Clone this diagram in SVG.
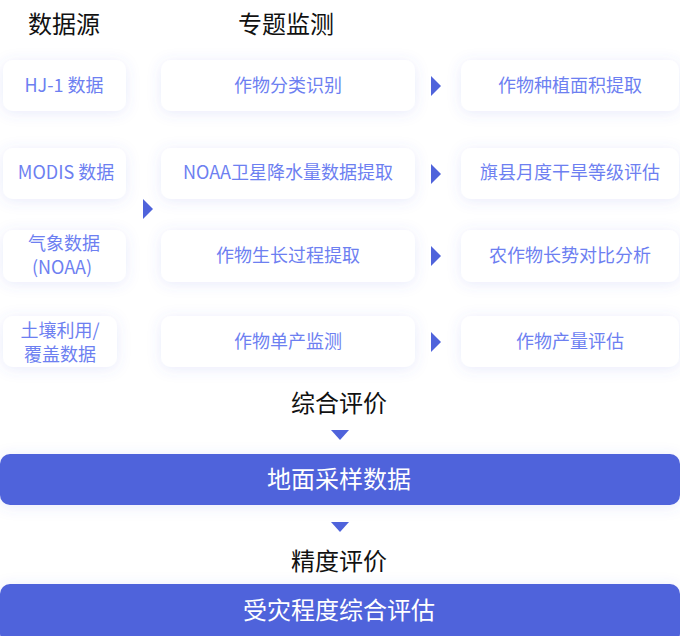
<svg xmlns="http://www.w3.org/2000/svg" width="680" height="636" viewBox="0 0 680 636">
<defs>
<filter id="sh" x="-30%" y="-60%" width="160%" height="220%">
<feDropShadow dx="0" dy="2" stdDeviation="7" flood-color="#5566dd" flood-opacity="0.13"/>
</filter>
<style>
text{font-family:"Noto Sans CJK SC","Noto Sans",sans-serif;text-anchor:middle;dominant-baseline:central}
.box{fill:#ffffff;filter:url(#sh)}
.bt{fill:#6d7ff1;font-size:18px}
.title{fill:#111111;font-size:24px}
.bar{fill:#4f63db;filter:url(#sh)}
.wt{fill:#ffffff;font-size:24px}
.arr{fill:#4f63db}
</style>
</defs>
<rect width="680" height="636" fill="#ffffff"/>

<g id="title-source"><text class="title" x="64" y="22">数据源</text></g>
<g id="title-monitor"><text class="title" x="286" y="22">专题监测</text></g>

<g id="src-hj1"><rect class="box" x="3" y="60" width="123" height="51" rx="10"/><text class="bt" x="64" y="84">HJ-1 数据</text></g>
<g id="src-modis"><rect class="box" x="3" y="148" width="123" height="51" rx="10"/><text class="bt" x="66" y="171">MODIS 数据</text></g>
<g id="src-noaa"><rect class="box" x="3" y="230" width="123" height="52" rx="10"/><text class="bt" x="64" y="242">气象数据<tspan x="62" dy="24">(NOAA)</tspan></text></g>
<g id="src-soil"><rect class="box" x="3" y="316" width="114" height="51" rx="10"/><text class="bt" x="60" y="329">土壤利用/<tspan x="60" dy="24">覆盖数据</tspan></text></g>

<g id="mon-class"><rect class="box" x="161" y="60" width="254" height="51" rx="10"/><text class="bt" x="288" y="84">作物分类识别</text></g>
<g id="mon-rain"><rect class="box" x="161" y="148" width="254" height="51" rx="10"/><text class="bt" x="288" y="171">NOAA卫星降水量数据提取</text></g>
<g id="mon-growth"><rect class="box" x="161" y="230" width="254" height="52" rx="10"/><text class="bt" x="288" y="254">作物生长过程提取</text></g>
<g id="mon-yield"><rect class="box" x="161" y="316" width="254" height="51" rx="10"/><text class="bt" x="288" y="340">作物单产监测</text></g>

<g id="res-area"><rect class="box" x="461" y="60" width="218" height="51" rx="10"/><text class="bt" x="570" y="84">作物种植面积提取</text></g>
<g id="res-drought"><rect class="box" x="461" y="148" width="218" height="51" rx="10"/><text class="bt" x="570" y="171">旗县月度干旱等级评估</text></g>
<g id="res-compare"><rect class="box" x="461" y="230" width="218" height="52" rx="10"/><text class="bt" x="570" y="254">农作物长势对比分析</text></g>
<g id="res-output"><rect class="box" x="461" y="316" width="218" height="51" rx="10"/><text class="bt" x="570" y="340">作物产量评估</text></g>

<g id="label-comprehensive"><text class="title" x="339" y="401">综合评价</text></g>
<g id="bar-ground"><rect class="bar" x="0" y="454" width="680" height="51" rx="10"/><text class="wt" x="339" y="477">地面采样数据</text></g>
<g id="label-accuracy"><text class="title" x="339" y="559">精度评价</text></g>
<g id="bar-final"><rect class="bar" x="0" y="584" width="680" height="60" rx="10"/><text class="wt" x="339" y="608">受灾程度综合评估</text></g>

<g id="connectors">
<polygon class="arr" points="143,199 153,209 143,219"/>
<polygon class="arr" points="431,76 441,86 431,96"/>
<polygon class="arr" points="431,164 441,174 431,184"/>
<polygon class="arr" points="431,246 441,256 431,266"/>
<polygon class="arr" points="431,332 441,342 431,352"/>
<polygon class="arr" points="331,430 349,430 340,440"/>
<polygon class="arr" points="331,522 349,522 340,532"/>
</g>
</svg>
